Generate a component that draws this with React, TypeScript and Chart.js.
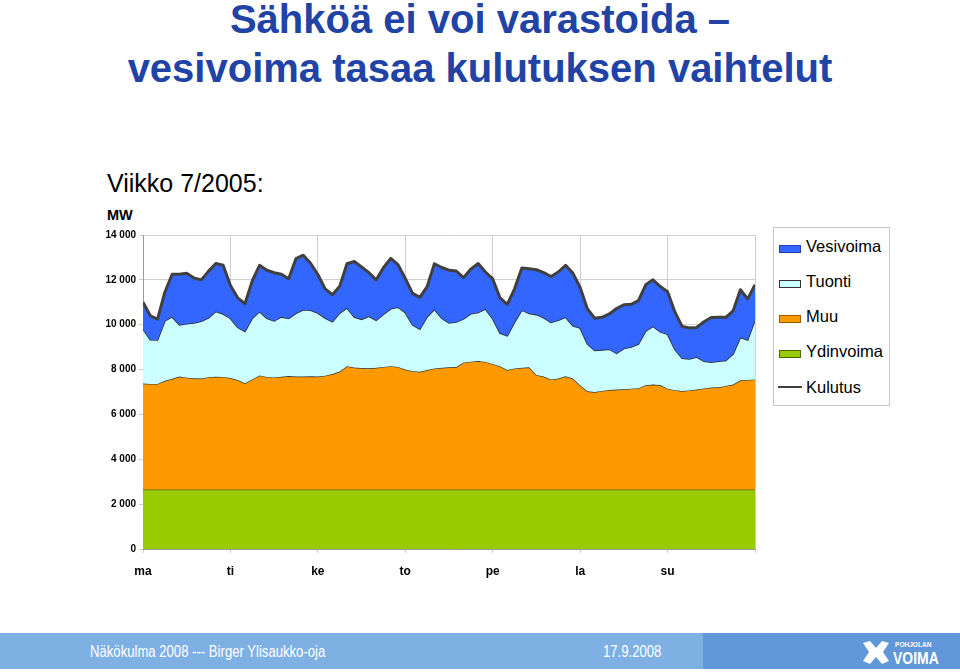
import { useEffect, useRef } from "react";
import { Chart, registerables } from "chart.js";

Chart.register(...registerables);

const FONT = '"Liberation Sans", Arial, Helvetica, sans-serif';

// Hours of the week (every 2 hours, Monday 00:00 ... Sunday 24:00)
const hours = Array.from({ length: 85 }, (_, i) => i * 2);

const dayLabels = ["ma", "ti", "ke", "to", "pe", "la", "su"];
const yTickLabels = ["0", "2 000", "4 000", "6 000", "8 000", "10 000", "12 000", "14 000"];

// Kulutus (consumption, MW) = top of the stack
const kulutus = [
  11000, 10400, 10250, 11450, 12250, 12250, 12290, 12080, 12000, 12390, 12730, 12650, 11750,
  11200, 10940, 11960, 12650, 12430, 12320, 12250, 12050, 12950, 13100, 12740, 12240,
  11600, 11340, 11710, 12720, 12820, 12580, 12320, 12000, 12540, 12960, 12680, 12060,
  11400, 11220, 11700, 12720, 12550, 12430, 12390, 12100, 12480, 12730, 12350, 12040,
  11200, 10910, 11600, 12530, 12500, 12450, 12320, 12150, 12350, 12650, 12300, 11660,
  10700, 10290, 10330, 10480, 10720, 10890, 10910, 11070, 11780, 12000, 11700, 11470,
  10570, 9920, 9860, 9880, 10130, 10320, 10330, 10330, 10620, 11560, 11150, 11780,
];

// Upper edge of Tuonti (import) layer, MW
const tuontiTop = [
  9800, 9330, 9320, 10170, 10350, 9990, 10040, 10080, 10160, 10310, 10590, 10480, 10280,
  9880, 9700, 10280, 10580, 10290, 10170, 10350, 10280, 10510, 10670, 10650, 10520,
  10300, 10130, 10520, 10740, 10340, 10240, 10380, 10200, 10460, 10710, 10780, 10540,
  9990, 9800, 10350, 10680, 10290, 10080, 10120, 10260, 10490, 10550, 10700, 10260,
  9630, 9510, 10110, 10650, 10500, 10450, 10310, 10100, 10200, 10330, 9950, 9850,
  9140, 8850, 8880, 8910, 8720, 8940, 9010, 9140, 9720, 9930, 9680, 9570,
  8900, 8500, 8470, 8560, 8370, 8330, 8370, 8410, 8690, 9430, 9320, 10200,
];

// Upper edge of Muu (other production) layer, MW
const muuTop = [
  7380, 7360, 7360, 7500, 7590, 7690, 7640, 7610, 7600, 7660, 7680, 7670, 7620,
  7530, 7390, 7560, 7740, 7670, 7650, 7680, 7710, 7690, 7690, 7700, 7690,
  7730, 7800, 7910, 8150, 8090, 8070, 8060, 8080, 8120, 8150, 8120, 8000,
  7930, 7900, 7980, 8050, 8080, 8100, 8110, 8320, 8350, 8380, 8340, 8250,
  8150, 7980, 8050, 8080, 8100, 7760, 7690, 7560, 7600, 7700, 7600, 7300,
  7030, 7000, 7050, 7090, 7110, 7120, 7150, 7170, 7300, 7330, 7310, 7150,
  7080, 7040, 7070, 7110, 7160, 7200, 7210, 7270, 7330, 7520, 7540, 7560,
];

// Ydinvoima (nuclear), MW
const ydinvoima = [
  2650, 2650, 2650, 2650, 2650, 2650, 2650, 2650, 2650, 2650, 2650, 2650, 2650,
  2650, 2650, 2650, 2650, 2650, 2650, 2650, 2650, 2650, 2650, 2650, 2650,
  2650, 2650, 2650, 2650, 2650, 2650, 2650, 2650, 2650, 2650, 2650, 2650,
  2650, 2650, 2650, 2650, 2650, 2650, 2650, 2650, 2650, 2650, 2650, 2650,
  2650, 2650, 2650, 2650, 2650, 2650, 2650, 2650, 2650, 2650, 2650, 2650,
  2650, 2650, 2650, 2650, 2650, 2650, 2650, 2650, 2650, 2650, 2650, 2650,
  2650, 2650, 2650, 2650, 2650, 2650, 2650, 2650, 2650, 2650, 2650, 2650,
];

const legendItems = [
  { label: "Vesivoima", fill: "#3366ff", border: "#1f3fb0", line: false },
  { label: "Tuonti", fill: "#ccffff", border: "#333333", line: false },
  { label: "Muu", fill: "#ff9900", border: "#9a5a00", line: false },
  { label: "Ydinvoima", fill: "#99cc00", border: "#4d6600", line: false },
  { label: "Kulutus", fill: "#404040", border: "#404040", line: true },
];

const pts = (arr: number[]) => arr.map((v, i) => ({ x: hours[i], y: v }));

function abs(left: number, top: number, extra: any = {}): any {
  return { position: "absolute", left, top, margin: 0, whiteSpace: "nowrap", ...extra };
}

const narrow = { transform: "scaleX(0.82)", transformOrigin: "0 0" };

export default function App() {
  const ref = useRef<HTMLCanvasElement>(null);

  useEffect(() => {
    const chart = new Chart(ref.current!, {
      type: "line",
      data: {
        datasets: [
          {
            label: "Kulutus",
            data: pts(kulutus),
            borderColor: "#404040",
            borderWidth: 3,
            borderJoinStyle: "round",
            fill: false,
          },
          {
            label: "Vesivoima",
            data: pts(kulutus),
            borderWidth: 0,
            borderColor: "rgba(0,0,0,0)",
            backgroundColor: "#3366ff",
            fill: 2,
          },
          {
            label: "Tuonti",
            data: pts(tuontiTop),
            borderColor: "#2b2b2b",
            borderWidth: 1.6,
            backgroundColor: "#ccffff",
            fill: 3,
          },
          {
            label: "Muu",
            data: pts(muuTop),
            borderColor: "#333333",
            borderWidth: 1.3,
            backgroundColor: "#ff9900",
            fill: 4,
          },
          {
            label: "Ydinvoima",
            data: pts(ydinvoima),
            borderColor: "#5a6a10",
            borderWidth: 1.2,
            backgroundColor: "#99cc00",
            fill: "origin",
          },
        ],
      },
      options: {
        responsive: false,
        animation: false,
        layout: { padding: { left: 0, right: 15, top: 10, bottom: 0 } },
        elements: { point: { radius: 0 }, line: { tension: 0 } },
        plugins: { legend: { display: false }, tooltip: { enabled: false } },
        scales: {
          x: {
            type: "linear",
            min: 0,
            max: 168,
            afterFit: (s: any) => {
              s.height = 41;
            },
            ticks: {
              stepSize: 24,
              autoSkip: false,
              maxRotation: 0,
              padding: 11,
              color: "#000",
              font: { family: FONT, size: 12, weight: "bold" },
              callback: (v: any) => dayLabels[Math.round(Number(v) / 24)] ?? "",
            },
            grid: { color: "#cfcfcf", lineWidth: 1, tickLength: 4 },
            border: { color: "#999999" },
          },
          y: {
            min: 0,
            max: 14000,
            afterFit: (s: any) => {
              s.width = 53;
            },
            ticks: {
              stepSize: 2000,
              padding: 3,
              color: "#000",
              font: { family: FONT, size: 10, weight: "bold" },
              callback: (v: any) => yTickLabels[Math.round(Number(v) / 2000)] ?? "",
            },
            grid: { color: "#cfcfcf", lineWidth: 1, tickLength: 4 },
            border: { color: "#999999" },
          },
        },
      },
    } as any);
    return () => chart.destroy();
  }, []);

  const legendTop = 251.7;
  const legendStep = 35.2;
  const lf = 16.5;

  return (
    <div
      style={{
        position: "absolute",
        left: 0,
        top: 0,
        width: 960,
        height: 672,
        background: "#ffffff",
        overflow: "hidden",
        fontFamily: FONT,
      }}
    >
      <div style={abs(0, -1.4, { width: 960, textAlign: "center", fontSize: 40, lineHeight: "40px", fontWeight: "bold", color: "#2143a6" })}>
        Sähköä ei voi varastoida –
      </div>
      <div style={abs(0, 48.1, { width: 960, textAlign: "center", fontSize: 40, lineHeight: "40px", fontWeight: "bold", color: "#2143a6" })}>
        vesivoima tasaa kulutuksen vaihtelut
      </div>
      <div style={abs(107, 170.8, { fontSize: 25, lineHeight: "25px", color: "#000" })}>Viikko 7/2005:</div>
      <div style={abs(107, 207.7, { fontSize: 14.5, lineHeight: "14.5px", fontWeight: "bold", color: "#000" })}>MW</div>

      <canvas ref={ref} width={680} height={365} style={abs(90, 225, { width: 680, height: 365 })} />

      {/* Legend */}
      <div style={abs(773, 227, { width: 115, height: 177, border: "1px solid #c8c8c8", background: "#fff" })} />
      {legendItems.map((it, i) => {
        const base = legendTop + legendStep * i;
        return (
          <div key={it.label}>
            {it.line ? (
              <div style={abs(778, base - 7, { width: 24, height: 2.5, background: it.fill })} />
            ) : (
              <div
                style={abs(779, base - 7, {
                  width: 20,
                  height: 6,
                  background: it.fill,
                  border: `1px solid ${it.border}`,
                })}
              />
            )}
            <div style={abs(806, base - 0.8465 * lf, { fontSize: lf, lineHeight: `${lf}px`, color: "#000" })}>
              {it.label}
            </div>
          </div>
        );
      })}

      {/* Footer */}
      <div style={abs(0, 633, { width: 960, height: 36, background: "#7eb0e4" })} />
      <div style={abs(703, 633, { width: 257, height: 36, background: "#5f97d8" })} />
      <div style={abs(90, 658 - 0.8465 * 16, { fontSize: 16, lineHeight: "16px", color: "#fff", ...narrow })}>
        Näkökulma 2008 --- Birger Ylisaukko-oja
      </div>
      <div style={abs(603, 658 - 0.8465 * 16, { fontSize: 16, lineHeight: "16px", color: "#fff", ...narrow })}>
        17.9.2008
      </div>
      <svg style={abs(862, 640)} width={28} height={25} viewBox="0 0 28 25">
        <path d="M1 3 L8 1 L14 8 L20 1 L27 3 L21 12 L27 21 L20 24 L14 17 L8 24 L1 21 L7 12 Z" fill="#fff" />
      </svg>
      <div style={abs(895, 648 - 0.8465 * 8, { fontSize: 8, lineHeight: "8px", fontWeight: "bold", color: "#fff", ...narrow })}>
        POHJOLAN
      </div>
      <div style={abs(893, 664 - 0.8465 * 17, { fontSize: 17, lineHeight: "17px", fontWeight: "bold", color: "#fff", ...narrow })}>
        VOIMA
      </div>
    </div>
  );
}
